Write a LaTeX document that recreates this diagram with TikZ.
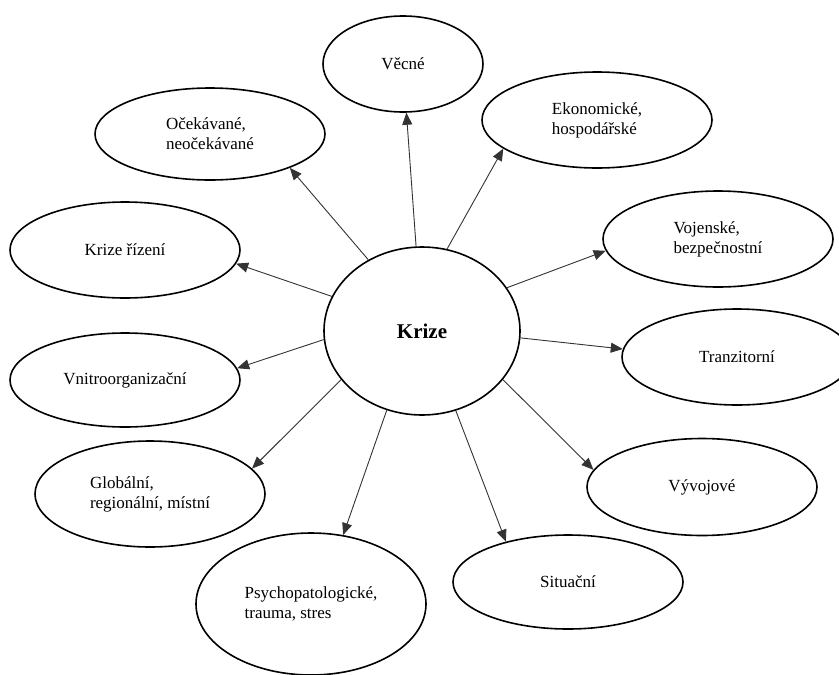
\documentclass[tikz,border=0pt]{standalone}
\usepackage{fontspec}
\setmainfont{Liberation Serif}
\usetikzlibrary{shapes.geometric,arrows.meta}

\begin{document}
\begin{tikzpicture}[x=1pt,y=-1pt]
	\tikzstyle{bubble}=[draw,ellipse,line width=1.6pt,inner sep=0pt,align=left,
		minimum width=230pt,minimum height=96pt,font=\fontsize{17}{20}\selectfont]
	\tikzstyle{link}=[draw=black!80,line width=0.9pt,-{Triangle[length=12pt,width=10pt]}]
	\useasboundingbox (0,0) rectangle (839,675);
	% centre
	\node[bubble,minimum width=196pt,minimum height=168pt,
		font=\fontsize{21}{24}\selectfont\bfseries] (krize) at (422,331) {Krize};
	% outer ring
	\node[bubble,minimum width=160pt] (vecne) at (403,64) {Věcné};
	\node[bubble] (ekon) at (597,120) {Ekonomické,\\hospodářské};
	\node[bubble,minimum height=92pt] (oceka) at (210,134) {Očekávané,\\neočekávané};
	\node[bubble] (rizeni) at (125,250) {Krize řízení};
	\node[bubble] (vojen) at (718,239) {Vojenské,\\bezpečnostní};
	\node[bubble] (tranz) at (737,357) {Tranzitorní};
	\node[bubble,minimum height=97pt] (vyvoj) at (702,487) {Vývojové};
	\node[bubble,minimum height=94pt] (situ) at (568,582) {Situační};
	\node[bubble,minimum height=94pt] (vnitro) at (125,380) {Vnitroorganizační};
	\node[bubble,minimum height=106pt] (glob) at (150,494) {Globální,\\regionální, místní};
	\node[bubble,minimum height=142pt] (psycho) at (311,604) {Psychopatologické,\\trauma, stres};
	% arrows
	\draw[link] (krize.94.8) -- (vecne.-86.4);
	\draw[link] (krize.73.2) -- (ekon.197.7);
	\draw[link] (krize.127.3) -- (oceka.-23);
	\draw[link] (krize.159.3) -- (rizeni.-7.9);
	\draw[link] (krize.27.6) -- (vojen.186.4);
	\draw[link] (krize.-4) -- (tranz.176.5);
	\draw[link] (krize.-31.2) -- (vyvoj.171.9);
	\draw[link] (krize.-67.6) -- (situ.147.2);
	\draw[link] (krize.185.3) -- (vnitro.6.4);
	\draw[link] (krize.211.9) -- (glob.14.4);
	\draw[link] (krize.246.6) -- (psycho.65.7);
\end{tikzpicture}
\end{document}
